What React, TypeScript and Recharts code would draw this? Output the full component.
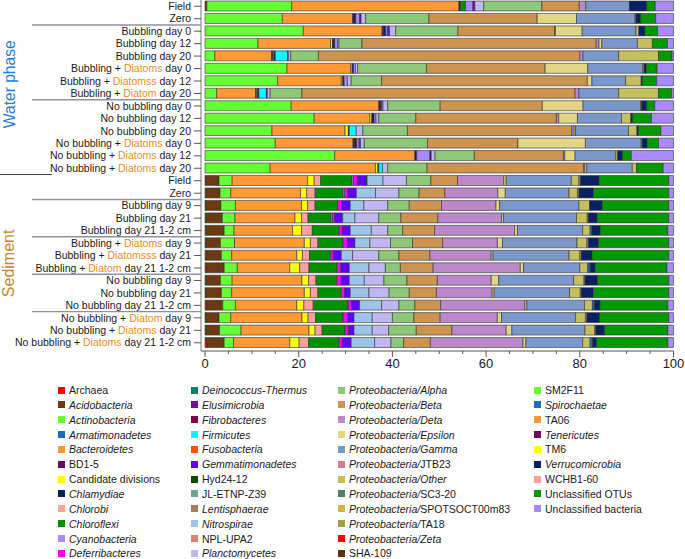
import { BarChart, Bar, XAxis, YAxis } from 'recharts'

// sample rows, top to bottom ({...} = orange part of the label)
const rowLabels = [
  'Field', 'Zero', 'Bubbling day 0', 'Bubbling day 12', 'Bubbling day 20',
  'Bubbling + {Diatoms} day 0', 'Bubbling + {Diatomss} day 12', 'Bubbling + {Diatom} day 20',
  'No bubbling day 0', 'No bubbling day 12', 'No bubbling day 20',
  'No bubbling + {Diatoms} day 0', 'No bubbling + {Diatoms} day 12', 'No bubbling + {Diatoms} day 20',
  'Field', 'Zero', 'Bubbling day 9', 'Bubbling day 21', 'Bubbling day 21 1-2 cm',
  'Bubbling + {Diatoms} day 9', 'Bubbling + {Diatomsss} day 21', 'Bubbling + {Diatom} day 21 1-2 cm',
  'No bubbling day 9', 'No bubbling day 21', 'No bubbling day 21 1-2 cm',
  'No bubbling + {Diatom} day 9', 'No bubbling + {Diatoms} day 21', 'No bubbling + {Diatoms} day 21 1-2 cm',
]

// taxa in stacking / legend order
const taxa = [
  'Archaea', 'Acido', 'Actino', 'Armat', 'Bacter', 'BD15', 'Cand', 'Chlam', 'Chlorobi', 'Chlorofl', 'Cyano', 'Defer',
  'Deino', 'Elusi', 'Fibro', 'Firmic', 'Fuso', 'Gemmat', 'Hyd', 'JL', 'Lentis', 'Nitro', 'NPL', 'Planct',
  'Alpha', 'Beta', 'Deta', 'Eps', 'Gamma', 'JTB23', 'Other', 'SC3', 'SPOT', 'TA18', 'Zeta', 'SHA',
  'SM2F11', 'Spiro', 'TA06', 'Tener', 'TM6', 'Verru', 'WCHB', 'UOTU', 'Ubact',
]

// _..._ marks italic parts
const taxonLabels = [
  'Archaea', '_Acidobacteria_', '_Actinobacteria_', '_Armatimonadetes_', '_Bacteroidetes_', 'BD1-5',
  'Candidate divisions', '_Chlamydiae_', '_Chlorobi_', '_Chloroflexi_', '_Cyanobacteria_', '_Deferribacteres_',
  '_Deinococcus-Thermus_', '_Elusimicrobia_', '_Fibrobacteres_', '_Firmicutes_', '_Fusobacteria_', '_Gemmatimonadetes_',
  'Hyd24-12', 'JL-ETNP-Z39', '_Lentisphaerae_', '_Nitrospirae_', 'NPL-UPA2', '_Planctomycetes_',
  '_Proteobacteria/Alpha_', '_Proteobacteria/Beta_', '_Proteobacteria/Deta_', '_Proteobacteria/Epsilon_',
  '_Proteobacteria/Gamma_', '_Proteobacteria/_JTB23', '_Proteobacteria/Other_', '_Proteobacteria/_SC3-20',
  '_Proteobacteria/_SPOTSOCT00m83', '_Proteobacteria/_TA18', '_Proteobacteria/Zeta_', 'SHA-109',
  'SM2F11', '_Spirochaetae_', 'TA06', '_Tenericutes_', 'TM6', '_Verrucomicrobia_', 'WCHB1-60',
  'Unclassified OTUs', 'Unclassified bacteria',
]

const taxonColors = [
  '#ff0000', '#6b3a12', '#66ff33', '#1a70c0', '#ff9933', '#6b0a5e', '#ffff00', '#0a2060', '#ff9f9f', '#009000', '#a98aff', '#ff00ff',
  '#00806a', '#6a10a0', '#800040', '#00ffff', '#ff5500', '#6000ff', '#005000', '#70a888', '#a08060', '#9cc4e8', '#e08070', '#c0b6f2',
  '#8cc878', '#cc944f', '#bb88cc', '#e2d584', '#7b98cc', '#d08090', '#c4c060', '#4a8070', '#d0b840', '#a0a040', '#ff0000', '#5c3310',
  '#66ff33', '#1a70c0', '#ff9933', '#6b0a5e', '#ffff00', '#0a2060', '#ff9f9f', '#009900', '#a98aff',
]

// relative abundance (%) per sample — water phase
const wField = { Acido: 0.4, Actino: 18.1, Bacter: 35.7, BD15: 0.3, Chlorofl: 1.1, Cyano: 1.6, Elusi: 0.4, Planct: 1.9, Alpha: 12.4, Beta: 8.0, Deta: 1.4, Gamma: 9.3, Verru: 3.7, UOTU: 1.8, Ubact: 3.9 }
const wZero = { Actino: 16.5, Bacter: 15.0, BD15: 0.3, Chlam: 0.4, Cyano: 0.8, Elusi: 0.3, Planct: 1.0, Alpha: 13.5, Beta: 23.1, Eps: 8.4, Gamma: 12.5, TA18: 0.2, Verru: 1.0, UOTU: 3.2, Ubact: 3.8 }
const wBub0 = { Actino: 21.0, Bacter: 16.8, BD15: 0.3, Chlam: 0.5, Cyano: 0.4, Elusi: 0.4, Planct: 1.3, Alpha: 13.3, Beta: 20.6, Deta: 0.2, Eps: 5.7, Gamma: 11.5, Other: 0.6, Verru: 1.3, UOTU: 2.7, Ubact: 3.4 }
const wBub12 = { Actino: 11.3, Bacter: 15.5, Cand: 0.4, Chlam: 0.5, Cyano: 0.6, Planct: 0.3, Alpha: 4.9, Beta: 50.0, Deta: 0.6, Eps: 0.6, Gamma: 7.6, Other: 3.2, UOTU: 3.2, Ubact: 1.3 }
const wBub20 = { Actino: 2.1, Bacter: 12.1, BD15: 0.3, Cand: 0.2, Chlam: 0.3, Firmic: 2.6, Gemmat: 0.2, Planct: 0.5, Alpha: 5.9, Beta: 55.8, Deta: 0.7, Gamma: 7.6, Other: 8.5, UOTU: 2.9, Ubact: 0.3 }
const wBD0 = { Actino: 17.5, Bacter: 13.6, Cand: 0.3, Chlam: 0.3, Cyano: 0.4, Planct: 0.5, Alpha: 14.7, Beta: 25.3, Eps: 9.1, Gamma: 11.7, Other: 0.3, Verru: 0.5, UOTU: 2.3, Ubact: 3.5 }
const wBD12 = { Actino: 15.5, Bacter: 13.6, Cand: 0.3, Chlam: 0.3, Cyano: 0.7, Planct: 0.8, Alpha: 6.5, Beta: 43.9, Eps: 1.0, Gamma: 7.2, Other: 3.3, Verru: 0.3, UOTU: 3.0, Ubact: 3.6 }
const wBD20 = { Actino: 2.5, Bacter: 8.3, BD15: 0.2, Cand: 0.2, Chlam: 0.3, Firmic: 1.6, Gemmat: 0.2, Planct: 0.6, Alpha: 6.8, Beta: 58.3, Deta: 0.8, Gamma: 8.5, Other: 8.5, UOTU: 2.8, Ubact: 0.4 }
const wNB0 = { Actino: 18.4, Bacter: 18.7, BD15: 0.3, Chlam: 0.3, Cyano: 0.3, Planct: 1.0, Alpha: 11.2, Beta: 21.8, Eps: 8.7, Gamma: 12.3, Other: 0.2, Verru: 1.1, UOTU: 1.7, Ubact: 4.0 }
const wNB12 = { Actino: 23.3, Bacter: 11.9, Cand: 0.4, Chlam: 0.5, Cyano: 0.4, Planct: 0.6, Alpha: 7.9, Beta: 30.0, Deta: 0.5, Eps: 4.0, Gamma: 9.4, Other: 2.0, Verru: 0.4, UOTU: 4.0, Ubact: 4.7 }
const wNB20 = { Actino: 14.3, Bacter: 15.6, Cand: 0.7, Chlam: 0.2, Firmic: 1.5, Planct: 1.4, Alpha: 9.5, Beta: 35.1, Deta: 0.5, Eps: 0.3, Gamma: 11.3, Other: 1.8, Verru: 0.3, UOTU: 4.8, Ubact: 2.7 }
const wNBD0 = { Actino: 15.0, Bacter: 16.6, BD15: 0.4, Chlam: 0.4, Cyano: 0.5, Elusi: 0.3, Planct: 0.8, Alpha: 13.5, Beta: 19.3, Eps: 14.4, Gamma: 11.9, Other: 0.2, Verru: 1.1, UOTU: 2.4, Ubact: 3.2 }
const wNBD12 = { Actino: 27.7, Bacter: 17.1, Chlam: 0.4, Cyano: 2.8, Elusi: 0.3, Planct: 0.8, Alpha: 8.4, Beta: 19.0, Deta: 0.3, Eps: 2.2, Gamma: 8.7, Other: 0.4, Verru: 1.0, UOTU: 1.9, Ubact: 9.0 }
const wNBD20 = { Actino: 13.9, Bacter: 22.5, Cand: 0.5, Chlam: 0.2, Firmic: 0.8, Planct: 1.1, Alpha: 8.4, Beta: 33.4, Deta: 0.3, Eps: 0.4, Gamma: 9.7, Other: 0.9, UOTU: 5.7, Ubact: 2.2 }

// sediment
const sField = { Archaea: 0.3, Acido: 2.7, Actino: 2.8, Bacter: 16.1, Cand: 1.4, Chlorobi: 1.4, Chlorofl: 6.7, Cyano: 0.3, Defer: 0.8, Elusi: 0.2, Gemmat: 1.6, Hyd: 0.3, Nitro: 3.4, Planct: 5.0, Alpha: 5.2, Beta: 5.7, Deta: 9.9, Eps: 0.5, Gamma: 13.9, Other: 1.6, SPOT: 0.3, Verru: 4.0, UOTU: 14.9, Ubact: 1.0 }
const sZero = { Archaea: 0.3, Acido: 2.9, Actino: 2.3, Bacter: 14.9, Cand: 1.3, Chlorobi: 1.8, Chlorofl: 6.0, Cyano: 0.3, Defer: 0.7, Gemmat: 1.8, Nitro: 4.1, Planct: 5.0, Alpha: 4.3, Beta: 5.5, Deta: 11.3, Eps: 1.6, Gamma: 13.6, Other: 1.8, SPOT: 0.3, Verru: 3.1, UOTU: 16.1, Ubact: 1.0 }
const sBub9 = { Archaea: 0.3, Acido: 3.1, Actino: 3.1, Bacter: 14.1, Cand: 1.3, Chlorobi: 1.6, Chlorofl: 4.8, Defer: 0.9, Gemmat: 1.8, Nitro: 2.9, Planct: 5.1, Alpha: 4.6, Beta: 6.9, Deta: 11.6, Eps: 0.8, Gamma: 16.9, Other: 2.3, Verru: 2.7, UOTU: 14.2, Ubact: 1.0 }
const sBub21 = { Archaea: 0.3, Acido: 3.4, Actino: 2.7, Bacter: 12.8, Cand: 1.4, Chlorobi: 1.4, Chlorofl: 4.9, Cyano: 0.3, Defer: 0.5, Gemmat: 1.7, Nitro: 2.6, Planct: 5.1, Alpha: 4.7, Beta: 7.9, Deta: 13.6, Eps: 0.4, Gamma: 15.6, Other: 2.3, SPOT: 0.2, Verru: 1.9, UOTU: 15.3, Ubact: 1.0 }
const sBub21cm = { Archaea: 0.3, Acido: 3.8, Actino: 2.1, Bacter: 12.5, Cand: 1.9, Chlorobi: 2.3, Chlorofl: 5.7, Defer: 0.7, Gemmat: 1.7, Nitro: 4.5, Planct: 3.5, Alpha: 3.2, Beta: 6.8, Deta: 17.1, Eps: 0.6, Gamma: 13.9, Other: 1.6, Spiro: 0.4, Verru: 1.8, UOTU: 14.4, Ubact: 1.2 }
const sBD9 = { Archaea: 0.3, Acido: 3.0, Actino: 3.0, Bacter: 14.9, Cand: 1.3, Chlorobi: 1.6, Chlorofl: 5.4, Defer: 0.9, Gemmat: 1.6, Nitro: 3.2, Planct: 4.4, Alpha: 4.7, Beta: 6.4, Deta: 11.7, Eps: 1.1, Gamma: 15.9, Other: 2.1, SPOT: 0.3, Verru: 2.2, UOTU: 15.0, Ubact: 1.0 }
const sBD21 = { Archaea: 0.4, Acido: 3.1, Actino: 2.2, Bacter: 13.9, Cand: 1.2, Chlorobi: 1.5, Chlorofl: 4.4, Cyano: 0.2, Defer: 0.5, Gemmat: 1.7, Nitro: 2.4, Planct: 5.6, Alpha: 4.3, Beta: 6.6, Deta: 13.1, Eps: 0.4, Gamma: 16.2, Other: 2.3, SPOT: 0.3, Verru: 2.3, UOTU: 16.4, Ubact: 1.0 }
const sBD21cm = { Archaea: 0.4, Acido: 3.7, Actino: 2.8, Bacter: 11.2, Cand: 2.1, Chlorobi: 2.0, Chlorofl: 6.0, Defer: 0.8, Gemmat: 1.8, Nitro: 4.2, Planct: 3.5, Alpha: 3.2, Beta: 7.0, Deta: 18.6, Eps: 0.7, Gamma: 12.0, Other: 1.7, Spiro: 0.5, Verru: 1.1, UOTU: 15.3, Ubact: 1.4 }
const sNB9 = { Archaea: 0.3, Acido: 3.0, Actino: 2.5, Bacter: 14.9, Cand: 1.4, Chlorobi: 1.6, Chlorofl: 4.4, Defer: 1.0, Gemmat: 1.7, Nitro: 3.2, Planct: 4.2, Alpha: 4.9, Beta: 6.5, Deta: 11.5, Eps: 1.6, Gamma: 16.0, Other: 2.2, SPOT: 0.2, Verru: 2.7, UOTU: 15.2, Ubact: 1.0 }
const sNB21 = { Archaea: 0.3, Acido: 3.2, Actino: 2.2, Bacter: 15.5, Cand: 1.3, Chlorobi: 1.6, Chlorofl: 5.0, Defer: 0.7, Gemmat: 1.2, Nitro: 4.0, Planct: 4.3, Alpha: 4.3, Beta: 5.8, Deta: 11.9, Eps: 0.4, Gamma: 16.1, Other: 2.3, SPOT: 0.2, Verru: 2.6, UOTU: 16.1, Ubact: 1.0 }
const sNB21cm = { Archaea: 0.4, Acido: 3.4, Actino: 2.7, Bacter: 13.1, Cand: 1.5, Chlorobi: 2.0, Chlorofl: 7.3, Cyano: 0.2, Defer: 0.7, Gemmat: 1.7, Nitro: 4.7, Planct: 3.7, Alpha: 3.4, Beta: 5.5, Deta: 18.0, Eps: 0.4, Gamma: 12.3, Other: 1.7, Spiro: 0.4, Verru: 1.2, UOTU: 14.5, Ubact: 1.2 }
const sNBD9 = { Archaea: 0.3, Acido: 2.7, Actino: 2.5, Bacter: 15.2, Cand: 1.3, Chlorobi: 1.6, Chlorofl: 5.9, Defer: 1.0, Gemmat: 1.3, Nitro: 3.9, Planct: 4.3, Alpha: 4.6, Beta: 5.6, Deta: 12.2, Eps: 0.9, Gamma: 15.8, Other: 2.1, SPOT: 0.3, Verru: 2.7, UOTU: 14.8, Ubact: 1.0 }
const sNBD21 = { Archaea: 0.3, Acido: 2.8, Actino: 4.6, Bacter: 14.5, Cand: 1.3, Chlorobi: 1.5, Chlorofl: 4.9, Defer: 0.7, Elusi: 0.2, Gemmat: 1.0, Nitro: 3.9, Planct: 3.5, Alpha: 5.9, Beta: 7.6, Deta: 11.6, Eps: 1.2, Gamma: 15.6, Other: 2.1, SPOT: 0.2, Verru: 1.9, UOTU: 13.5, Ubact: 1.2 }
const sNBD21cm = { Archaea: 0.4, Acido: 3.7, Actino: 2.0, Bacter: 12.0, Cand: 2.0, Chlorobi: 2.0, Chlorofl: 6.5, Defer: 0.7, Gemmat: 1.9, Nitro: 5.0, Planct: 3.5, Alpha: 2.7, Beta: 5.7, Deta: 19.8, Eps: 0.6, Gamma: 12.1, Other: 1.6, Spiro: 0.5, Verru: 0.9, UOTU: 15.2, Ubact: 1.2 }

const samples = [
  wField, wZero, wBub0, wBub12, wBub20, wBD0, wBD12, wBD20, wNB0, wNB12, wNB20, wNBD0, wNBD12, wNBD20,
  sField, sZero, sBub9, sBub21, sBub21cm, sBD9, sBD21, sBD21cm, sNB9, sNB21, sNB21cm, sNBD9, sNBD21, sNBD21cm,
]

const xTicks = [0, 5, 10, 15, 20, 25, 30, 35, 40, 45, 50, 55, 60, 65, 70, 75, 80, 85, 90, 95, 100]

// rows followed by a separator line
const groupEnds = [1, 7, 15, 18, 21, 24]

const data = samples.map((s, i) => ({ row: i, ...s }))

const FONT = '"Liberation Sans", Arial, Helvetica, sans-serif'
const ORANGE = '#f08a1c'
const HALF_BAND = 6.23

function RowTick(props: any) {
  const { x, y, payload } = props
  const i = Number(payload.value)
  const parts = rowLabels[i].split(/[{}]/)
  return (
    <g>
      <text x={x} y={y} dy="0.35em" textAnchor="end" fontSize={10.5} fontFamily={FONT} fill="#1a1a1a">
        {parts.map((p, j) => (
          <tspan key={j} fill={j % 2 ? ORANGE : '#1a1a1a'}>{p}</tspan>
        ))}
      </text>
      {groupEnds.includes(i) && (
        <line x1={32} x2={x + 10} y1={y + HALF_BAND} y2={y + HALF_BAND} stroke="#8e92a2" strokeWidth={1.4} />
      )}
      {i === 13 && (
        <line x1={0} x2={52} y1={y + HALF_BAND} y2={y + HALF_BAND} stroke="#3a4060" strokeWidth={1.2} />
      )}
      {i === 6 && (
        <text transform={`translate(14.6, ${y + 3.2}) rotate(-90)`} textAnchor="middle" fontSize={15.6} fontFamily={FONT} fill="#1f80e0">
          Water phase
        </text>
      )}
      {i === 21 && (
        <text transform={`translate(14.2, ${y - 4.6}) rotate(-90)`} textAnchor="middle" fontSize={16} fontFamily={FONT} fill="#c4882c">
          Sediment
        </text>
      )}
    </g>
  )
}

function PctTick(props: any) {
  const { x, y, payload } = props
  const major = payload.value % 20 === 0
  return (
    <g>
      <line x1={x} x2={x} y1={y} y2={y + (major ? 6 : 3)} stroke="#555" strokeWidth={1} />
      {major && (
        <text x={x} y={y + 8} dy="0.71em" textAnchor="middle" fontSize={13} fontFamily={FONT} fill="#1a1a1a">
          {payload.value}
        </text>
      )}
    </g>
  )
}

function LegendLabel({ label }: { label: string }) {
  const parts = label.split('_')
  return (
    <span>
      {parts.map((p, j) => (
        <span key={j} style={{ fontStyle: j % 2 ? 'italic' : 'normal' }}>{p}</span>
      ))}
    </span>
  )
}

const legendCols = [58, 191, 338, 534]

export default function App() {
  return (
    <div style={{ position: 'relative', width: 685, height: 559, background: '#fff', fontFamily: FONT }}>
      <style>{'body{margin:0}'}</style>
      <BarChart
        width={685}
        height={380}
        data={data}
        layout="vertical"
        margin={{ top: 0, right: 11.5, bottom: 0, left: 0 }}
        barSize={10}
      >
        <XAxis
          type="number"
          domain={[0, 100]}
          ticks={xTicks}
          interval={0}
          padding={{ left: 4, right: 0 }}
          height={29}
          tickSize={0}
          tickMargin={0}
          tickLine={false}
          axisLine={{ stroke: '#555' }}
          tick={<PctTick />}
        />
        <YAxis
          type="category"
          dataKey="row"
          width={201}
          interval={0}
          padding={{ top: 0, bottom: 2 }}
          tickSize={7}
          tickMargin={3}
          tickLine={{ stroke: '#555' }}
          axisLine={{ stroke: '#777' }}
          tick={<RowTick />}
        />
        {taxa.map((k, i) => (
          <Bar
            key={k}
            dataKey={k}
            stackId="a"
            fill={taxonColors[i]}
            stroke="#333"
            strokeWidth={0.6}
            isAnimationActive={false}
          />
        ))}
      </BarChart>
      {taxa.map((k, i) => {
        const col = Math.floor(i / 12)
        const r = i % 12
        return (
          <div
            key={k}
            style={{
              position: 'absolute',
              left: legendCols[col],
              top: 390 + r * 14.85 - 7,
              height: 14,
              display: 'flex',
              alignItems: 'center',
              whiteSpace: 'nowrap',
              fontSize: 10.5,
              color: '#1a1a1a',
            }}
          >
            <span style={{ display: 'inline-block', width: 7, height: 7, background: taxonColors[i], marginRight: 4 }} />
            <LegendLabel label={taxonLabels[i]} />
          </div>
        )
      })}
    </div>
  )
}
